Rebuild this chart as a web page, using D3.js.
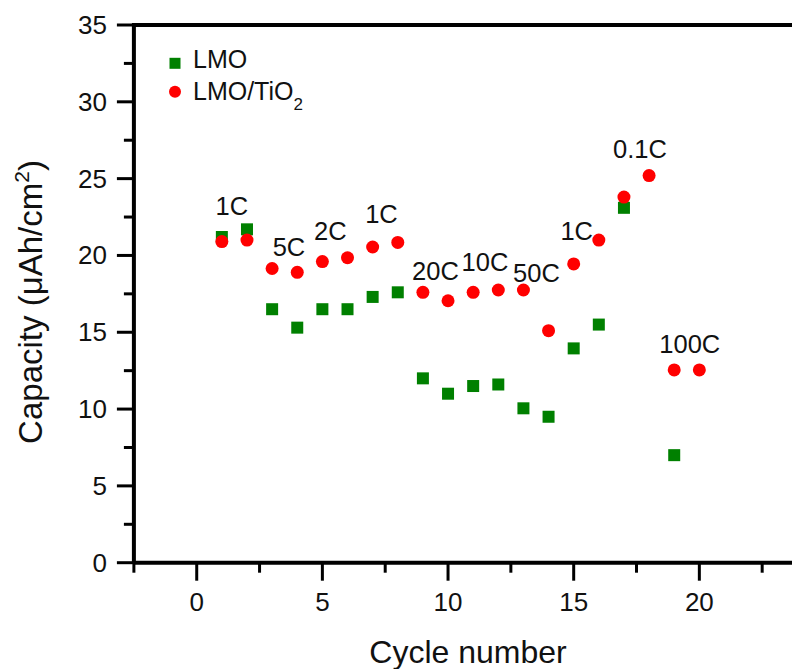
<!DOCTYPE html>
<html>
<head>
<meta charset="utf-8">
<script src="https://cdn.jsdelivr.net/npm/d3@7"></script>
<style>
html,body{margin:0;padding:0;background:#fff;}
svg{display:block;}
text{font-family:"Liberation Sans",Arial,sans-serif;fill:#111;}
</style>
</head>
<body>
<svg id="chart" width="792" height="669"></svg>
<script>
// ---- data ----
const cycles = [1,2,3,4,5,6,7,8,9,10,11,12,13,14,15,16,17,18,19,20];
const lmo = [21.2,21.7,16.5,15.3,16.5,16.5,17.3,17.6,12.0,11.0,11.5,11.6,10.05,9.5,13.95,15.5,23.1,null,7.0,null];
const lmoTiO2 = [20.9,21.0,19.15,18.9,19.6,19.85,20.55,20.85,17.6,17.05,17.6,17.75,17.75,15.1,19.45,21.0,23.8,25.2,12.55,12.55];
const rateLabels = ["1C","5C","2C","1C","20C","10C","50C","1C","0.1C","100C"];
const rateLabelX = [1.4,3.67,5.32,7.35,9.5,11.47,13.52,15.12,17.64,19.62];
const rateLabelY = [22.6,19.95,21.0,22.1,18.4,19.0,18.3,21.0,26.35,13.63];
const xTicks = [0,5,10,15,20];
const yTicks = [0,5,10,15,20,25,30,35];

// ---- layout ----
const svg = d3.select("#chart");
const x = d3.scaleLinear().domain([-2.5,25]).range([133.9,825]);
const y = d3.scaleLinear().domain([0,35]).range([562.7,25]);
const green = "#008000", red = "#ff0000";

// axes lines
const axW = 4;
svg.append("line").attr("x1",x(-2.5)).attr("x2",860).attr("y1",y(0)).attr("y2",y(0)).attr("stroke","#000").attr("stroke-width",axW);
svg.append("line").attr("x1",x(-2.5)).attr("x2",860).attr("y1",y(35)).attr("y2",y(35)).attr("stroke","#000").attr("stroke-width",axW);
svg.append("line").attr("x1",x(-2.5)).attr("x2",x(-2.5)).attr("y1",y(35)-2).attr("y2",y(0)).attr("stroke","#000").attr("stroke-width",axW);

// x ticks
const xMinor = d3.range(-2.5,25,5);
svg.selectAll(".xmaj").data(xTicks).join("line")
  .attr("x1",d=>x(d)).attr("x2",d=>x(d)).attr("y1",y(0)).attr("y2",y(0)+18)
  .attr("stroke","#000").attr("stroke-width",3);
svg.selectAll(".xmin").data(xMinor).join("line")
  .attr("x1",d=>x(d)).attr("x2",d=>x(d)).attr("y1",y(0)).attr("y2",y(0)+10)
  .attr("stroke","#000").attr("stroke-width",3);
svg.selectAll(".xlab").data(xTicks).join("text")
  .attr("x",d=>x(d)).attr("y",611).attr("text-anchor","middle")
  .attr("font-size",26).text(d=>d);

// y ticks
const yMinor = d3.range(2.5,35,5);
svg.selectAll(".ymaj").data(yTicks).join("line")
  .attr("x1",x(-2.5)-17).attr("x2",x(-2.5)).attr("y1",d=>y(d)).attr("y2",d=>y(d))
  .attr("stroke","#000").attr("stroke-width",3);
svg.selectAll(".ymin").data(yMinor).join("line")
  .attr("x1",x(-2.5)-10).attr("x2",x(-2.5)).attr("y1",d=>y(d)).attr("y2",d=>y(d))
  .attr("stroke","#000").attr("stroke-width",3);
svg.selectAll(".ylab").data(yTicks).join("text")
  .attr("x",107).attr("y",d=>y(d)+9).attr("text-anchor","end")
  .attr("font-size",26).text(d=>d);

// axis titles
svg.append("text").attr("x",468).attr("y",663).attr("text-anchor","middle")
  .attr("font-size",32).text("Cycle number");
const yt = svg.append("text").attr("transform","translate(42,302) rotate(-90)")
  .attr("text-anchor","middle").attr("font-size",33);
yt.append("tspan").text("Capacity (\u03bcAh/cm");
yt.append("tspan").attr("font-size",21).attr("dy",-13).text("2");
yt.append("tspan").attr("dy",13).text(")");

// data points
const sq = 12;
svg.selectAll(".lmo").data(cycles.map((c,i)=>[c,lmo[i]]).filter(d=>d[1]!=null)).join("rect")
  .attr("x",d=>x(d[0])-sq/2).attr("y",d=>y(d[1])-sq/2).attr("width",sq).attr("height",sq)
  .attr("fill",green);
svg.selectAll(".ti").data(cycles.map((c,i)=>[c,lmoTiO2[i]]).filter(d=>d[1]!=null)).join("circle")
  .attr("cx",d=>x(d[0])).attr("cy",d=>y(d[1])).attr("r",6.5)
  .attr("fill",red);

// rate labels
svg.selectAll(".rate").data(rateLabels).join("text")
  .attr("x",(d,i)=>x(rateLabelX[i])).attr("y",(d,i)=>y(rateLabelY[i]))
  .attr("text-anchor","middle").attr("font-size",25.5).text(d=>d);

// legend
svg.append("rect").attr("x",175-5.5).attr("y",63.3-5.5).attr("width",11).attr("height",11).attr("fill",green);
svg.append("circle").attr("cx",175).attr("cy",91.7).attr("r",6).attr("fill",red);
svg.append("text").attr("x",193).attr("y",68).attr("font-size",25).text("LMO");
const lt = svg.append("text").attr("x",193).attr("y",100).attr("font-size",25);
lt.append("tspan").text("LMO/TiO");
lt.append("tspan").attr("font-size",17).attr("dy",10).text("2");
</script>
</body>
</html>
